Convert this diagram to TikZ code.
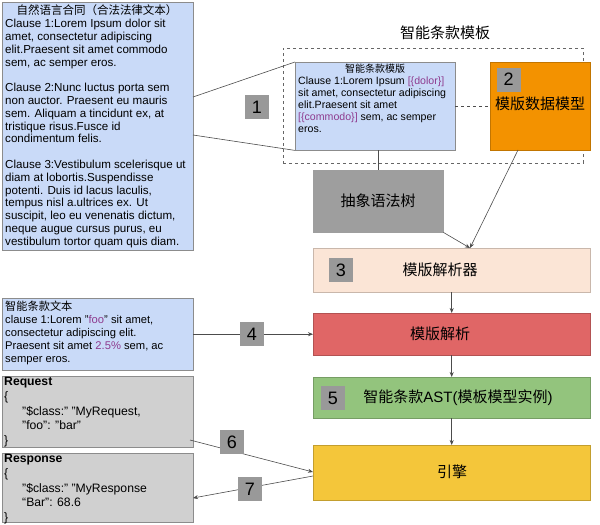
\documentclass[tikz,border=0pt]{standalone}
\usepackage{fontspec}
\setmainfont{Liberation Sans}
\newfontfamily\cjk{Noto Sans CJK SC}
\usetikzlibrary{arrows.meta, positioning}
\definecolor{lblue}{HTML}{C9DAF8}
\definecolor{bgray}{HTML}{D0D0D0}
\definecolor{agray}{HTML}{9E9E9E}
\definecolor{qgray}{HTML}{999999}
\definecolor{orng}{HTML}{F39200}
\definecolor{peach}{HTML}{FBE5D6}
\definecolor{redb}{HTML}{E06666}
\definecolor{grnb}{HTML}{93C47D}
\definecolor{yelb}{HTML}{F4C63A}
\definecolor{purp}{HTML}{8E3B8E}
\begin{document}
\begin{tikzpicture}[x=1pt, y=-1pt,
  box/.style={draw=black!45, anchor=north west, inner sep=0pt},
  txt/.style={anchor=north west, inner sep=0pt, align=left, font=\fontsize{11.6}{12.8}\selectfont},
  num/.style={draw=black!40, fill=qgray, minimum size=23pt, inner sep=0pt, font=\fontsize{18}{18}\selectfont},
  big/.style={font=\cjk\fontsize{15}{15}\selectfont},
  line/.style={black!70, line width=0.6pt},
  arr/.style={line, -{Stealth[length=5pt, width=4pt]}}]
\useasboundingbox (0,0) rectangle (600,525);

% ------------------------------------------------------------------
% natural language contract
% ------------------------------------------------------------------
\node[box, fill=lblue, minimum width=191pt, minimum height=248pt] (contract) at (2,2) {};
\node[anchor=north, inner sep=0pt, font=\cjk\fontsize{11.5}{12}\selectfont] (contractT) at (97,4) {自然语言合同（合法法律文本）};
\node[txt] (contractB) at (5,19) {Clause 1:Lorem Ipsum dolor sit\\amet, consectetur adipiscing\\elit.Praesent sit amet commodo\\sem, ac semper eros.\\[12.8pt]
Clause 2:Nunc luctus porta sem\\non auctor. Praesent eu mauris\\sem. Aliquam a tincidunt ex, at\\tristique risus.Fusce id\\condimentum felis.\\[12.8pt]
Clause 3:Vestibulum scelerisque ut\\diam at lobortis.Suspendisse\\potenti. Duis id lacus laculis,\\tempus nisl a.ultrices ex. Ut\\suscipit, leo eu venenatis dictum,\\neque augue cursus purus, eu\\vestibulum tortor quam quis diam.};

% ------------------------------------------------------------------
% template group
% ------------------------------------------------------------------
\node[font=\cjk\fontsize{15}{15}\selectfont] (groupT) at (445,33) {智能条款模板};
\node[box, draw=black!60, dashed, minimum width=300pt, minimum height=115pt] (group) at (283,48) {};
\node[box, fill=lblue, minimum width=160pt, minimum height=88pt] (tmpl) at (295,62) {};
\node[anchor=north, inner sep=0pt, font=\cjk\fontsize{10}{10}\selectfont] (tmplT) at (375,64) {智能条款模版};
\node[txt, font=\fontsize{10.6}{11.8}\selectfont] (tmplB) at (298,77) {Clause 1:Lorem Ipsum \textcolor{purp}{[\{dolor\}]}\\sit amet, consectetur adipiscing\\elit.Praesent sit amet\\\textcolor{purp}{[\{commodo\}]} sem, ac semper\\eros.};
\node[box, fill=orng, draw=orng!80!black, minimum width=100pt, minimum height=88pt] (model) at (490,62) {};
\node[num, anchor=north west] (n2) at (497,68) {2};
\node[big] (modelT) at (540,104) {模版数据模型};
\draw[line, dashed] (tmpl.east) -- (model.west);

% contract to template
\draw[line] (193,97) -- (tmpl.north west);
\draw[line] (193,135) -- (tmpl.south west);
\node[num] (n1) at (257,107) {1};

% ------------------------------------------------------------------
% pipeline
% ------------------------------------------------------------------
\node[box, fill=agray, draw=agray, minimum width=130pt, minimum height=62pt] (ast) at (313,170) {};
\node[big] (astT) at (378,201) {抽象语法树};
\draw[line] (tmpl.south -| ast) -- (ast.north);

\node[box, fill=peach, draw=peach!80!black, minimum width=277pt, minimum height=44pt] (parser) at (313,248) {};
\node[num] (n3) at (341,270) {3};
\node[big] (parserT) at (440,270) {模版解析器};
\coordinate (pin) at (470,248);
\draw[arr] (518,150) -- (pin);
\draw[arr] (ast.south east) -- (pin);

\node[box, fill=redb, draw=redb!80!black, minimum width=277pt, minimum height=42pt] (parse) at (313,313) {};
\node[big] (parseT) at (440,334) {模版解析};
\draw[arr] (parser.south) -- (parse.north);

\node[box, fill=grnb, draw=grnb!80!black, minimum width=277pt, minimum height=41pt] (inst) at (313,377) {};
\node[num] (n5) at (333,398) {5};
\node[font=\fontsize{15}{15}\selectfont] (instT) at (458,398) {{\cjk 智能条款}AST({\cjk 模板模型实例})};
\draw[arr] (parse.south) -- (inst.north);

\node[box, fill=yelb, draw=yelb!80!black, minimum width=277pt, minimum height=55pt] (engine) at (313,445) {};
\node[big] (engineT) at (452,472) {引擎};
\draw[arr] (inst.south) -- (engine.north);

% ------------------------------------------------------------------
% clause text, request, response
% ------------------------------------------------------------------
\node[box, fill=lblue, minimum width=191pt, minimum height=72pt] (ctext) at (2,298) {};
\node[txt, font=\fontsize{11.2}{13}\selectfont] (ctextB) at (5,301) {{\cjk 智能条款文本}\\clause 1:Lorem "\textcolor{purp}{foo}" sit amet,\\consectetur adipiscing elit.\\Praesent sit amet \textcolor{purp}{2.5\%} sem, ac\\semper eros.};
\draw[arr] (ctext.east) -- (parse.west);
\node[num] (n4) at (252,334) {4};

\node[box, fill=bgray, minimum width=191pt, minimum height=71pt] (req) at (2,376) {};
\node[txt, font=\fontsize{12.2}{14.8}\selectfont] (reqB) at (4,377) {\textbf{Request}\\\{\\\hspace*{18pt}"\$class:" "MyRequest,\\\hspace*{18pt}"foo": "bar"\\\}};
\node[box, fill=bgray, minimum width=191pt, minimum height=69pt] (resp) at (2,453) {};
\node[txt, font=\fontsize{12.2}{14.8}\selectfont] (respB) at (4,454) {\textbf{Response}\\\{\\\hspace*{18pt}"\$class:" "MyResponse\\\hspace*{18pt}“Bar”: 68.6\\\}};

\coordinate (reqOut) at (190,440);
\coordinate (engIn) at (313,472);
\coordinate (engOut) at (313,476);
\coordinate (respIn) at (193,498);
\draw[arr] (reqOut) -- (engIn);
\draw[arr] (engOut) -- (respIn);
\node[num] (n6) at (232,442) {6};
\node[num] (n7) at (250,489) {7};
\end{tikzpicture}
\end{document}
